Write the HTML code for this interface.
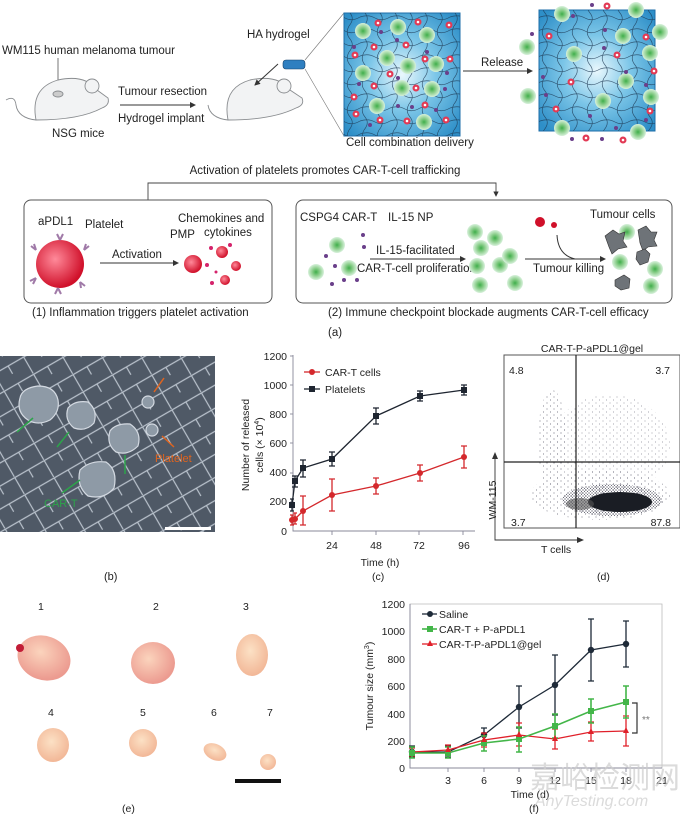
<!DOCTYPE html>
<html><head><meta charset="utf-8"><style>
body{margin:0;background:#fff}
svg{display:block;font-family:"Liberation Sans",Arial,sans-serif}
</style></head><body>
<svg width="680" height="817" viewBox="0 0 680 817" xmlns="http://www.w3.org/2000/svg">
<defs>
<radialGradient id="blue" cx="50%" cy="50%" r="65%">
<stop offset="0" stop-color="#eaf8fd"/><stop offset="0.45" stop-color="#7cc6e8"/><stop offset="1" stop-color="#2e8fc8"/></radialGradient>
<radialGradient id="gc" cx="50%" cy="50%" r="50%"><stop offset="0" stop-color="#3fae4a"/><stop offset="0.5" stop-color="#8fd08f"/><stop offset="1" stop-color="#d8f1dc"/></radialGradient>
<radialGradient id="rp" cx="40%" cy="40%" r="60%"><stop offset="0" stop-color="#ff8a9a"/><stop offset="1" stop-color="#d0102a"/></radialGradient>
<radialGradient id="tum" cx="40%" cy="40%" r="60%"><stop offset="0" stop-color="#fbd4bd"/><stop offset="1" stop-color="#ec9b90"/></radialGradient>
<radialGradient id="tum2" cx="45%" cy="40%" r="60%"><stop offset="0" stop-color="#fce1c5"/><stop offset="1" stop-color="#f2b797"/></radialGradient>
<pattern id="net" width="30" height="26" patternUnits="userSpaceOnUse">
<path d="M0 4 Q8 1 15 5 T30 4 M4 0 Q0 7 5 13 T4 26 M19 0 Q15 7 20 13 T19 26 M0 17 Q8 14 15 18 T30 17" fill="none" stroke="#1b3550" stroke-width="0.7" opacity="0.75"/></pattern>
<pattern id="sem" width="34" height="20" patternUnits="userSpaceOnUse" patternTransform="rotate(-30)">
<rect width="34" height="20" fill="#4f5966"/><path d="M0 1 H34 M12 1 V20 M28 1 V10" stroke="#b9c2cc" stroke-width="1.2" fill="none"/></pattern>
<pattern id="dots" width="7" height="6" patternUnits="userSpaceOnUse">
<circle cx="1" cy="1" r="0.5" fill="#556"/><circle cx="4.5" cy="4" r="0.5" fill="#556"/></pattern>
<pattern id="dots2" width="3" height="3" patternUnits="userSpaceOnUse">
<circle cx="1" cy="1" r="0.6" fill="#334"/><circle cx="2.5" cy="2.4" r="0.5" fill="#334"/></pattern>
<g id="gcell"><circle r="8" fill="url(#gc)"/></g>
<g id="rstar"><circle r="3.5" fill="#e23a55"/><circle r="1.3" fill="#fff"/></g>
<g id="pdot"><circle r="2" fill="#6a3f8a"/></g>
<marker id="ah" markerWidth="6" markerHeight="6" refX="5" refY="3" orient="auto"><path d="M0 0 L6 3 L0 6z" fill="#333"/></marker>
</defs>

<!-- ===== Panel a top ===== -->
<g font-size="11.5" fill="#222">
<text x="2" y="54">WM115 human melanoma tumour</text>
<text x="52" y="137">NSG mice</text>
<text x="118" y="95">Tumour resection</text>
<text x="118" y="122">Hydrogel implant</text>
<text x="247" y="38">HA hydrogel</text>
<text x="346" y="146">Cell combination delivery</text>
<text x="481" y="66">Release</text>
</g>
<line x1="58" y1="58" x2="58" y2="92" stroke="#555" stroke-width="0.8"/>
<!-- mouse 1 -->
<g fill="#f2f3f4" stroke="#8a8d90" stroke-width="0.9">
<path d="M36 120 Q30 88 58 80 Q85 74 97 90 L108 98 Q110 105 102 108 Q80 120 36 120z"/>
<path d="M36 120 Q18 118 16 105 Q15 95 6 100" fill="none"/>
<circle cx="92" cy="86" r="7"/>
<ellipse cx="58" cy="94" rx="5" ry="3" fill="#ccc"/>
</g>
<line x1="120" y1="105" x2="195" y2="105" stroke="#333" marker-end="url(#ah)"/>
<!-- mouse 2 -->
<g fill="#f2f3f4" stroke="#8a8d90" stroke-width="0.9">
<path d="M228 120 Q222 88 250 80 Q278 74 290 90 L302 98 Q305 105 296 108 Q272 120 228 120z"/>
<path d="M228 120 Q210 118 208 105" fill="none"/>
<circle cx="284" cy="86" r="7"/>
</g>
<line x1="278" y1="64" x2="255" y2="85" stroke="#333" marker-end="url(#ah)"/>
<rect x="283" y="60" width="22" height="9" rx="3" fill="#2f7fc0" stroke="#14406a" stroke-width="0.6"/>
<line x1="305" y1="60" x2="344" y2="13" stroke="#777" stroke-width="0.6"/>
<line x1="305" y1="69" x2="344" y2="136" stroke="#777" stroke-width="0.6"/>
<!-- box 1 -->
<rect x="344" y="13" width="116" height="123" fill="url(#blue)" stroke="#1d6ea8"/>
<rect x="344" y="13" width="116" height="123" fill="url(#net)"/>
<g>
<use href="#gcell" x="363" y="31"/><use href="#gcell" x="398" y="27"/><use href="#gcell" x="427" y="35"/>
<use href="#gcell" x="387" y="58"/><use href="#gcell" x="408" y="66"/><use href="#gcell" x="436" y="64"/>
<use href="#gcell" x="363" y="73"/><use href="#gcell" x="402" y="88"/><use href="#gcell" x="432" y="89"/>
<use href="#gcell" x="377" y="106"/><use href="#gcell" x="424" y="122"/>
<use href="#rstar" x="378" y="23"/><use href="#rstar" x="418" y="22"/><use href="#rstar" x="449" y="25"/>
<use href="#rstar" x="355" y="55"/><use href="#rstar" x="374" y="47"/><use href="#rstar" x="406" y="45"/>
<use href="#rstar" x="425" y="59"/><use href="#rstar" x="450" y="59"/><use href="#rstar" x="390" y="74"/>
<use href="#rstar" x="374" y="86"/><use href="#rstar" x="416" y="88"/><use href="#rstar" x="354" y="97"/>
<use href="#rstar" x="425" y="105"/><use href="#rstar" x="356" y="114"/><use href="#rstar" x="380" y="120"/><use href="#rstar" x="407" y="121"/><use href="#rstar" x="446" y="120"/>
<use href="#pdot" x="381" y="32"/><use href="#pdot" x="397" y="40"/><use href="#pdot" x="354" y="47"/>
<use href="#pdot" x="427" y="52"/><use href="#pdot" x="398" y="78"/><use href="#pdot" x="447" y="73"/>
<use href="#pdot" x="359" y="84"/><use href="#pdot" x="445" y="89"/><use href="#pdot" x="398" y="106"/>
<use href="#pdot" x="412" y="107"/><use href="#pdot" x="436" y="110"/><use href="#pdot" x="370" y="125"/>
</g>
<line x1="463" y1="71" x2="532" y2="71" stroke="#333" marker-end="url(#ah)"/>
<!-- box 2 -->
<rect x="539" y="10" width="116" height="121" fill="url(#blue)" stroke="#1d6ea8"/>
<rect x="539" y="10" width="116" height="121" fill="url(#net)"/>
<g>
<use href="#gcell" x="562" y="14"/><use href="#gcell" x="636" y="10"/><use href="#gcell" x="660" y="32"/>
<use href="#gcell" x="527" y="47"/><use href="#gcell" x="623" y="36"/><use href="#gcell" x="574" y="54"/>
<use href="#gcell" x="650" y="53"/><use href="#gcell" x="626" y="81"/><use href="#gcell" x="528" y="96"/>
<use href="#gcell" x="651" y="97"/><use href="#gcell" x="603" y="101"/><use href="#gcell" x="562" y="128"/><use href="#gcell" x="638" y="132"/>
<use href="#rstar" x="607" y="6"/><use href="#rstar" x="549" y="36"/><use href="#rstar" x="646" y="37"/>
<use href="#rstar" x="617" y="55"/><use href="#rstar" x="654" y="71"/><use href="#rstar" x="571" y="82"/>
<use href="#rstar" x="556" y="109"/><use href="#rstar" x="650" y="111"/><use href="#rstar" x="586" y="138"/><use href="#rstar" x="623" y="140"/>
<use href="#pdot" x="592" y="5"/><use href="#pdot" x="573" y="16"/><use href="#pdot" x="532" y="34"/>
<use href="#pdot" x="605" y="30"/><use href="#pdot" x="604" y="48"/><use href="#pdot" x="626" y="72"/>
<use href="#pdot" x="543" y="77"/><use href="#pdot" x="646" y="85"/><use href="#pdot" x="546" y="95"/>
<use href="#pdot" x="590" y="116"/><use href="#pdot" x="646" y="120"/><use href="#pdot" x="616" y="128"/><use href="#pdot" x="572" y="139"/><use href="#pdot" x="602" y="139"/>
</g>

<!-- middle -->
<text x="325" y="174" font-size="11.5" text-anchor="middle" fill="#222">Activation of platelets promotes CAR-T-cell trafficking</text>
<path d="M148 200 V183 H496 V196" fill="none" stroke="#444" stroke-width="0.9" marker-end="url(#ah)"/>
<rect x="24" y="200" width="248" height="103" rx="7" fill="none" stroke="#555" stroke-width="1"/>
<rect x="296" y="200" width="376" height="103" rx="7" fill="none" stroke="#555" stroke-width="1"/>
<g font-size="11.5" fill="#222">
<text x="38" y="225">aPDL1</text><text x="85" y="228">Platelet</text>
<text x="112" y="258">Activation</text>
<text x="178" y="222">Chemokines and</text>
<text x="170" y="238">PMP</text><text x="204" y="236">cytokines</text>
<text x="300" y="221">CSPG4 CAR-T</text><text x="388" y="221">IL-15 NP</text>
<text x="376" y="254">IL-15-facilitated</text>
<text x="357" y="272">CAR-T-cell proliferation</text>
<text x="533" y="272">Tumour killing</text>
<text x="590" y="218">Tumour cells</text>
<text x="32" y="316">(1) Inflammation triggers platelet activation</text>
<text x="328" y="316">(2) Immune checkpoint blockade augments CAR-T-cell efficacy</text>
<text x="328" y="336">(a)</text>
</g>
<circle cx="60" cy="264" r="24" fill="url(#rp)"/>
<g stroke="#a07aa8" stroke-width="2" fill="none">
<path d="M36 250 l-5 -4 M36 250 l-2 -6"/><path d="M84 250 l5 -4 M84 250 l2 -6"/><path d="M36 278 l-6 3 M36 278 l-3 6"/><path d="M80 282 l5 4 M80 282 l1 6"/><path d="M60 240 l-3 -6 M60 240 l3 -6"/><path d="M58 288 l-3 6 M58 288 l3 6"/>
</g>
<line x1="100" y1="263" x2="178" y2="263" stroke="#333" marker-end="url(#ah)"/>
<circle cx="193" cy="264" r="9" fill="url(#rp)"/>
<circle cx="222" cy="252" r="6" fill="url(#rp)"/><circle cx="236" cy="266" r="5" fill="url(#rp)"/><circle cx="225" cy="280" r="5" fill="url(#rp)"/>
<g fill="#d4236b"><circle cx="211" cy="248" r="2"/><circle cx="207" cy="265" r="2"/><circle cx="212" cy="283" r="2"/><circle cx="230" cy="245" r="2"/><circle cx="216" cy="272" r="1.5"/></g>
<g>
<use href="#gcell" x="337" y="245"/><use href="#gcell" x="316" y="272"/><use href="#gcell" x="349" y="268"/>
<use href="#pdot" x="363" y="235"/><use href="#pdot" x="364" y="247"/><use href="#pdot" x="326" y="256"/><use href="#pdot" x="335" y="266"/><use href="#pdot" x="332" y="284"/><use href="#pdot" x="344" y="280"/><use href="#pdot" x="357" y="280"/>
<use href="#gcell" x="475" y="232"/><use href="#gcell" x="495" y="238"/><use href="#gcell" x="481" y="248"/><use href="#gcell" x="500" y="265"/><use href="#gcell" x="477" y="266"/><use href="#gcell" x="510" y="256"/><use href="#gcell" x="515" y="283"/><use href="#gcell" x="480" y="285"/>
<use href="#gcell" x="627" y="232"/><use href="#gcell" x="620" y="262"/><use href="#gcell" x="655" y="269"/><use href="#gcell" x="651" y="286"/>
</g>
<line x1="370" y1="259" x2="465" y2="259" stroke="#333" marker-end="url(#ah)"/>
<line x1="525" y1="259" x2="605" y2="259" stroke="#333" marker-end="url(#ah)"/>
<path d="M557 235 Q558 255 575 259" fill="none" stroke="#333"/>
<circle cx="540" cy="222" r="5" fill="#d0102a"/><circle cx="554" cy="225" r="3" fill="#d0102a"/>
<g fill="#6e7378" stroke="#333" stroke-width="0.6"><path d="M605 236 l8 -6 l6 4 l6 -2 l-2 9 l4 6 l-9 2 l-6 5 l-3 -7 z"/><path d="M638 230 l8 -4 l5 6 l6 0 l-3 8 l3 6 l-9 1 l-5 4 l-3 -8 z"/><path d="M637 252 l8 -3 l5 5 l-2 8 l-8 3 l-4 -6 z"/><path d="M615 280 l9 -5 l6 4 l-1 9 l-8 2 l-6 -4 z"/></g>

<!-- ===== Panel b ===== -->
<rect x="0" y="356" width="215" height="176" fill="url(#sem)"/>
<g fill="#8e9aa6" stroke="#d4dae2" stroke-width="1.2">
<path d="M20 398 Q22 388 38 386 Q55 386 58 400 Q60 412 50 420 Q38 426 28 420 Q16 412 20 398z"/>
<path d="M68 408 Q75 400 88 402 Q98 410 94 423 Q86 432 74 428 Q64 420 68 408z"/>
<path d="M110 431 Q116 423 130 424 Q142 432 138 446 Q128 456 116 452 Q106 444 110 431z"/>
<path d="M80 470 Q90 460 106 462 Q118 470 114 488 Q104 500 88 496 Q76 486 80 470z"/>
<circle cx="152" cy="430" r="6"/><circle cx="148" cy="402" r="6"/>
</g>
<rect x="165" y="527" width="46" height="3" fill="#fff"/>
<g stroke="#2ca44a" stroke-width="1.5"><line x1="17" y1="432" x2="33" y2="418"/><line x1="57" y1="447" x2="69" y2="432"/><line x1="125" y1="474" x2="125" y2="455"/><line x1="62" y1="493" x2="80" y2="480"/></g>
<g stroke="#e0641e" stroke-width="1.5"><line x1="164" y1="378" x2="154" y2="392"/><line x1="174" y1="447" x2="162" y2="436"/></g>
<text x="44" y="507" font-size="11" fill="#2ca44a">CAR-T</text>
<text x="155" y="462" font-size="11" fill="#e0641e">Platelet</text>
<text x="104" y="580" font-size="11" fill="#222">(b)</text>

<!-- ===== Panel c ===== -->
<g font-size="10.5" fill="#222">
<text transform="translate(249,445) rotate(-90)" text-anchor="middle">Number of released</text>
<text transform="translate(263,445) rotate(-90)" text-anchor="middle">cells (× 10<tspan font-size="7" dy="-4">4</tspan><tspan dy="4">)</tspan></text>
<text x="380" y="566" text-anchor="middle">Time (h)</text>
<text x="372" y="580">(c)</text>
<g text-anchor="end"><text x="287" y="360">1200</text><text x="287" y="389">1000</text><text x="287" y="418">800</text><text x="287" y="447">600</text><text x="287" y="476">400</text><text x="287" y="505">200</text><text x="287" y="535">0</text></g>
<g text-anchor="middle"><text x="332" y="549">24</text><text x="376" y="549">48</text><text x="419" y="549">72</text><text x="464" y="549">96</text></g>
</g>
<path d="M293 355 V531 H475" fill="none" stroke="#889" stroke-width="0.9"/>
<g stroke="#889" stroke-width="0.9"><line x1="290" y1="356" x2="293" y2="356"/><line x1="290" y1="385" x2="293" y2="385"/><line x1="290" y1="414" x2="293" y2="414"/><line x1="290" y1="443" x2="293" y2="443"/><line x1="290" y1="473" x2="293" y2="473"/><line x1="290" y1="502" x2="293" y2="502"/><line x1="332" y1="531" x2="332" y2="535"/><line x1="376" y1="531" x2="376" y2="535"/><line x1="419" y1="531" x2="419" y2="535"/><line x1="463" y1="531" x2="463" y2="535"/></g>
<g stroke="#d4282c" stroke-width="1.3" fill="none">
<polyline points="292,520 295,519 303,511 332,495 376,486 420,473 464,457"/>
<path d="M292 515 V525 M295 513 V524 M303 496 V525 M332 479 V511 M376 478 V494 M420 465 V481 M464 446 V468"/>
<path d="M290 515 h4 M290 525 h4 M293 513 h4 M293 524 h4 M300 496 h6 M300 525 h6 M329 479 h6 M329 511 h6 M373 478 h6 M373 494 h6 M417 465 h6 M417 481 h6 M461 446 h6 M461 468 h6"/>
</g>
<g fill="#d4282c"><circle cx="292" cy="520" r="3"/><circle cx="295" cy="519" r="3"/><circle cx="303" cy="511" r="3"/><circle cx="332" cy="495" r="3"/><circle cx="376" cy="486" r="3"/><circle cx="420" cy="473" r="3"/><circle cx="464" cy="457" r="3"/></g>
<g stroke="#1e2530" stroke-width="1.3" fill="none">
<polyline points="292,505 295,481 303,468 332,459 376,416 420,396 464,390"/>
<path d="M292 499 V511 M295 476 V487 M303 460 V477 M332 452 V466 M376 408 V424 M420 391 V401 M464 385 V395"/>
<path d="M290 499 h4 M290 511 h4 M292 476 h6 M292 487 h6 M300 460 h6 M300 477 h6 M329 452 h6 M329 466 h6 M373 408 h6 M373 424 h6 M417 391 h6 M417 401 h6 M461 385 h6 M461 395 h6"/>
</g>
<g fill="#1e2530"><rect x="289" y="502" width="6" height="6"/><rect x="292" y="478" width="6" height="6"/><rect x="300" y="465" width="6" height="6"/><rect x="329" y="456" width="6" height="6"/><rect x="373" y="413" width="6" height="6"/><rect x="417" y="393" width="6" height="6"/><rect x="461" y="387" width="6" height="6"/></g>
<g font-size="10.5" fill="#222">
<line x1="304" y1="372" x2="320" y2="372" stroke="#d4282c" stroke-width="1.3"/><circle cx="312" cy="372" r="3" fill="#d4282c"/><text x="325" y="376">CAR-T cells</text>
<line x1="304" y1="389" x2="320" y2="389" stroke="#1e2530" stroke-width="1.3"/><rect x="309" y="386" width="6" height="6" fill="#1e2530"/><text x="325" y="393">Platelets</text>
</g>

<!-- ===== Panel d ===== -->
<text x="592" y="352" font-size="10.5" text-anchor="middle" fill="#222">CAR-T-P-aPDL1@gel</text>
<rect x="504" y="355" width="176" height="173" fill="#fff" stroke="#555"/>
<ellipse cx="552" cy="440" rx="14" ry="50" fill="url(#dots)"/>
<ellipse cx="610" cy="445" rx="60" ry="50" fill="url(#dots)" opacity="0.7"/>
<ellipse cx="600" cy="495" rx="70" ry="25" fill="url(#dots)"/>
<ellipse cx="612" cy="500" rx="50" ry="16" fill="url(#dots2)"/>
<ellipse cx="620" cy="502" rx="32" ry="10" fill="#1a1d24"/>
<ellipse cx="580" cy="504" rx="14" ry="6" fill="#555" opacity="0.6"/>
<line x1="576" y1="355" x2="576" y2="528" stroke="#222" stroke-width="1.2"/>
<line x1="504" y1="462" x2="680" y2="462" stroke="#222" stroke-width="1.2"/>
<g font-size="10.5" fill="#222"><text x="509" y="374">4.8</text><text x="670" y="374" text-anchor="end">3.7</text><text x="511" y="526">3.7</text><text x="671" y="526" text-anchor="end">87.8</text>
<text transform="translate(496,500) rotate(-90)" text-anchor="middle">WM-115</text>
<text x="541" y="553">T cells</text><text x="597" y="580">(d)</text></g>
<path d="M495 456 V540 H580" fill="none" stroke="#333" stroke-width="0.9"/>
<path d="M492 459 L495 452 L498 459z M577 537 L584 540 L577 543z" fill="#333"/>

<!-- ===== Panel e ===== -->
<g font-size="10.5" fill="#222"><text x="38" y="610">1</text><text x="153" y="610">2</text><text x="243" y="610">3</text><text x="48" y="716">4</text><text x="140" y="716">5</text><text x="211" y="716">6</text><text x="267" y="716">7</text><text x="122" y="812">(e)</text></g>
<ellipse cx="44" cy="658" rx="27" ry="22" fill="url(#tum)" transform="rotate(20 44 658)"/>
<circle cx="20" cy="648" r="4" fill="#c21c36"/>
<ellipse cx="153" cy="663" rx="22" ry="21" fill="url(#tum)"/>
<ellipse cx="252" cy="655" rx="16" ry="21" fill="url(#tum2)"/>
<ellipse cx="53" cy="745" rx="16" ry="17" fill="url(#tum2)"/>
<ellipse cx="143" cy="743" rx="14" ry="14" fill="url(#tum2)"/>
<ellipse cx="215" cy="752" rx="12" ry="8" fill="url(#tum2)" transform="rotate(25 215 752)"/>
<circle cx="268" cy="762" r="8" fill="url(#tum2)"/>
<rect x="235" y="779" width="46" height="4" fill="#111"/>

<!-- ===== Panel f ===== -->
<path d="M410 604 H662 V768 H410 Z" fill="none" stroke="#bbb" stroke-width="0.8"/>
<path d="M410 604 V768 H662" fill="none" stroke="#889" stroke-width="0.9"/>
<g font-size="10.5" fill="#222">
<g text-anchor="end"><text x="405" y="608">1200</text><text x="405" y="635">1000</text><text x="405" y="663">800</text><text x="405" y="690">600</text><text x="405" y="718">400</text><text x="405" y="745">200</text><text x="405" y="772">0</text></g>
<g text-anchor="middle"><text x="448" y="784">3</text><text x="484" y="784">6</text><text x="519" y="784">9</text><text x="555" y="784">12</text><text x="591" y="784">15</text><text x="626" y="784">18</text><text x="662" y="784">21</text></g>
<text transform="translate(373,686) rotate(-90)" text-anchor="middle">Tumour size (mm<tspan font-size="7" dy="-4">3</tspan><tspan dy="4">)</tspan></text>
<text x="530" y="798" text-anchor="middle">Time (d)</text><text x="529" y="812">(f)</text>
</g>
<g stroke="#889" stroke-width="0.9"><line x1="448" y1="768" x2="448" y2="772"/><line x1="484" y1="768" x2="484" y2="772"/><line x1="519" y1="768" x2="519" y2="772"/><line x1="555" y1="768" x2="555" y2="772"/><line x1="591" y1="768" x2="591" y2="772"/><line x1="626" y1="768" x2="626" y2="772"/></g>
<text x="530" y="788" font-size="30" fill="#ccc" opacity="0.7" font-family="'Noto Sans CJK SC',sans-serif">嘉峪检测网</text>
<text x="535" y="806" font-size="16" font-style="italic" fill="#ccc" opacity="0.7">AnyTesting.com</text>
<g stroke="#1e2a38" stroke-width="1.3" fill="none">
<polyline points="412,752 448,752 484,735 519,707 555,685 591,650 626,644"/>
<path d="M412 746 V757 M448 746 V757 M484 728 V743 M519 686 V728 M555 655 V715 M591 619 V681 M626 621 V667"/>
<path d="M409 746 h6 M409 757 h6 M445 746 h6 M445 757 h6 M481 728 h6 M481 743 h6 M516 686 h6 M516 728 h6 M552 655 h6 M552 715 h6 M588 619 h6 M588 681 h6 M623 621 h6 M623 667 h6"/>
</g>
<g fill="#1e2a38"><circle cx="412" cy="752" r="3.2"/><circle cx="448" cy="752" r="3.2"/><circle cx="484" cy="735" r="3.2"/><circle cx="519" cy="707" r="3.2"/><circle cx="555" cy="685" r="3.2"/><circle cx="591" cy="650" r="3.2"/><circle cx="626" cy="644" r="3.2"/></g>
<g stroke="#e0202a" stroke-width="1.3" fill="none">
<polyline points="412,752 448,750 484,740 519,735 555,739 591,732 626,731"/>
<path d="M412 748 V756 M448 745 V755 M484 733 V747 M519 723 V746 M555 729 V749 M591 722 V741 M626 716 V746"/>
<path d="M409 748 h6 M409 756 h6 M445 745 h6 M445 755 h6 M481 733 h6 M481 747 h6 M516 723 h6 M516 746 h6 M552 729 h6 M552 749 h6 M588 722 h6 M588 741 h6 M623 716 h6 M623 746 h6"/>
</g>
<g stroke="#43b649" stroke-width="1.6" fill="none">
<polyline points="412,753 448,753 484,743 519,739 555,726 591,711 626,702"/>
<path d="M412 747 V758 M448 747 V758 M484 736 V751 M519 727 V752 M555 714 V738 M591 699 V723 M626 686 V718"/>
<path d="M409 747 h6 M409 758 h6 M445 747 h6 M445 758 h6 M481 736 h6 M481 751 h6 M516 727 h6 M516 752 h6 M552 714 h6 M552 738 h6 M588 699 h6 M588 723 h6 M623 686 h6 M623 718 h6"/>
</g>
<g fill="#43b649"><rect x="409" y="750" width="6" height="6"/><rect x="445" y="750" width="6" height="6"/><rect x="481" y="740" width="6" height="6"/><rect x="516" y="736" width="6" height="6"/><rect x="552" y="723" width="6" height="6"/><rect x="588" y="708" width="6" height="6"/><rect x="623" y="699" width="6" height="6"/></g>
<g fill="#e0202a"><path d="M448 746 l3 6 h-6z M484 736 l3 6 h-6z M519 731 l3 6 h-6z M555 735 l3 6 h-6z M591 728 l3 6 h-6z M626 727 l3 6 h-6z"/></g>
<path d="M632 703 H637 V733 H632" fill="none" stroke="#333" stroke-width="1.2"/>
<text x="642" y="723" font-size="10" fill="#777">**</text>
<g font-size="10.5" fill="#222">
<line x1="422" y1="614" x2="437" y2="614" stroke="#1e2a38" stroke-width="1.3"/><circle cx="430" cy="614" r="3" fill="#1e2a38"/><text x="439" y="618">Saline</text>
<line x1="422" y1="629" x2="437" y2="629" stroke="#43b649" stroke-width="1.6"/><rect x="427" y="626" width="6" height="6" fill="#43b649"/><text x="439" y="633">CAR-T + P-aPDL1</text>
<line x1="422" y1="644" x2="437" y2="644" stroke="#e0202a" stroke-width="1.3"/><path d="M430 640 l3 6 h-6z" fill="#e0202a"/><text x="439" y="648">CAR-T-P-aPDL1@gel</text>
</g>
</svg>
</body></html>
